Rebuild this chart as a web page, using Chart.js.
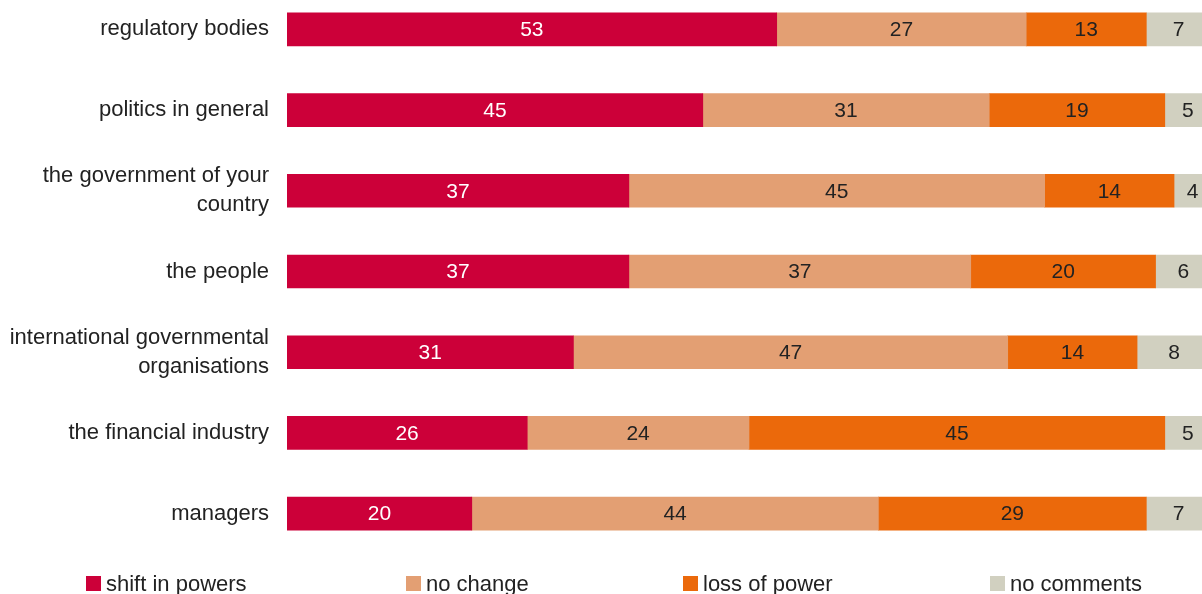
<!DOCTYPE html>
<html>
<head>
<meta charset="utf-8">
<script src="https://cdn.jsdelivr.net/npm/chart.js@4.4.0/dist/chart.umd.min.js"></script>
<style>
  html, body { margin: 0; padding: 0; width: 1202px; height: 594px; overflow: hidden; background: #fff; }
  #wrap { position: absolute; left: 0; top: -11px; width: 1211px; height: 565px; }
  #legend { position: absolute; left: 0; top: 0; width: 1202px; height: 594px; pointer-events: none;
    font-family: "Liberation Sans", Arial, sans-serif; font-size: 22px; color: #222; }
  .box { position: absolute; top: 576px; width: 15px; height: 15px; }
  .txt { position: absolute; top: 571px; white-space: nowrap; }
</style>
</head>
<body>
<div id="wrap"><canvas id="chart"></canvas></div>
<div id="legend"></div>
<script>
const categories = [
  "regulatory bodies",
  "politics in general",
  ["the government of your", "country"],
  "the people",
  ["international governmental", "organisations"],
  "the financial industry",
  "managers",
];
const seriesNames = ["shift in powers", "no change", "loss of power", "no comments"];
const shiftInPowers = [53, 45, 37, 37, 31, 26, 20];
const noChange = [27, 31, 45, 37, 47, 24, 44];
const lossOfPower = [13, 19, 14, 20, 14, 45, 29];
const noComments = [7, 5, 4, 6, 8, 5, 7];

const colors = ["#cc0039", "#e39f73", "#eb690b", "#d1d0c0"];
const labelColors = ["#ffffff", "#222222", "#222222", "#222222"];
const legendLeft = [86, 406, 683, 990];
const FONT = "'Liberation Sans', Arial, sans-serif";

// draws the value in the middle of each segment
const valueLabels = {
  id: "valueLabels",
  afterDatasetsDraw(chart) {
    const ctx = chart.ctx;
    ctx.save();
    ctx.font = "21px " + FONT;
    ctx.textAlign = "center";
    ctx.textBaseline = "middle";
    chart.data.datasets.forEach((ds, i) => {
      chart.getDatasetMeta(i).data.forEach((bar, j) => {
        ctx.fillStyle = labelColors[i];
        ctx.fillText(ds.data[j], (bar.x + bar.base) / 2, bar.y + 1);
      });
    });
    ctx.restore();
  },
};

function drawChart() {
  const values = [shiftInPowers, noChange, lossOfPower, noComments];
  const ctx = document.getElementById("chart");
  const myChart = new Chart(ctx, {
    type: "bar",
    data: {
      labels: categories,
      datasets: values.map((v, i) => ({
        label: seriesNames[i],
        data: v,
        backgroundColor: colors[i],
        borderWidth: 0,
        barThickness: 33,
      })),
    },
    options: {
      indexAxis: "y",
      responsive: true,
      maintainAspectRatio: false,
      animation: false,
      layout: { padding: 0 },
      plugins: {
        legend: { display: false },
        tooltip: { enabled: false },
      },
      scales: {
        x: { stacked: true, min: 0, max: 100, display: false },
        y: {
          stacked: true,
          grid: { display: false, drawTicks: false },
          border: { display: false },
          ticks: {
            color: "#222",
            padding: 18,
            font: { family: FONT, size: 22, lineHeight: 1.32 },
          },
          afterFit(scale) {
            scale.width = 287;
            // no extra room for the first/last label, bars fill the full height
            scale.paddingTop = 0;
            scale.paddingBottom = 0;
          },
        },
      },
    },
    plugins: [valueLabels],
  });

  // legend built from the datasets
  const legend = document.getElementById("legend");
  myChart.data.datasets.forEach((ds, i) => {
    const box = document.createElement("div");
    box.className = "box";
    box.style.left = legendLeft[i] + "px";
    box.style.background = ds.backgroundColor;
    const txt = document.createElement("div");
    txt.className = "txt";
    txt.style.left = legendLeft[i] + 20 + "px";
    txt.textContent = ds.label;
    legend.appendChild(box);
    legend.appendChild(txt);
  });

  return myChart;
}

drawChart();
</script>
</body>
</html>
